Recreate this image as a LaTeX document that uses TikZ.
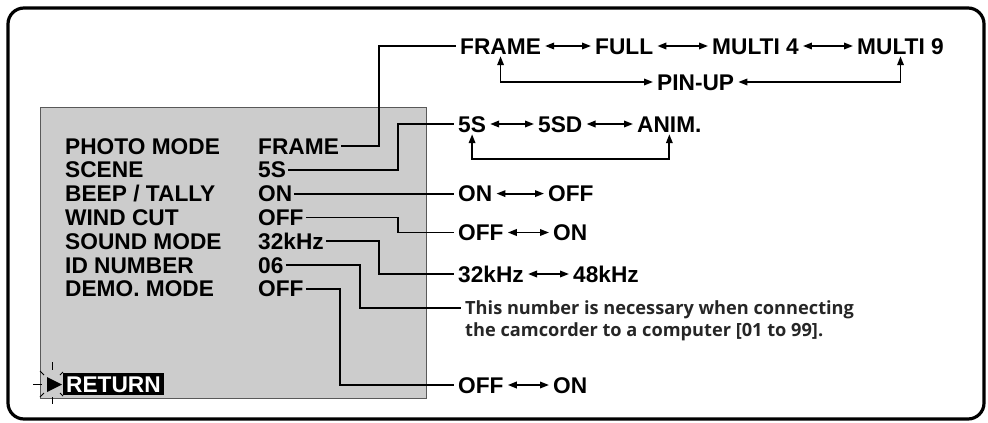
\documentclass[tikz,border=0pt]{standalone}
\usepackage{fontspec}
\setmainfont{Liberation Sans}
\newfontfamily\notefont{Open Sans}
\usetikzlibrary{arrows.meta}
\definecolor{panel}{RGB}{204,204,204}
\begin{document}
\begin{tikzpicture}[x=1pt,y=-1pt,
  txt/.style={font=\fontsize{22.7}{24}\selectfont\bfseries, inner xsep=2pt, inner ysep=0pt, text height=16pt, text depth=0pt, anchor=west},
  opt/.style={txt, inner xsep=4pt},
  note/.style={font=\notefont\fontsize{18.2}{20}\selectfont\bfseries, inner xsep=4pt, inner ysep=0pt, text height=12pt, text depth=0pt, anchor=base west, text=black!85},
  wire/.style={line width=1.8pt},
  tipd/.style={line width=1.8pt, {Triangle[length=9pt,width=6.5pt]}-{Triangle[length=9pt,width=6.5pt]}},
  spark/.style={line width=0.9pt},
]
\useasboundingbox (0,0) rectangle (988,423);
\draw[line width=3.2pt, rounded corners=16pt] (8,8) rectangle (984,419);
% panel
\draw[fill=panel, draw=black!65, line width=1pt] (40,107) rectangle (426,398);
% labels
\node[txt] (l1) at (63,146.0) {PHOTO MODE};
\node[txt] (l2) at (63,169.8) {SCENE};
\node[txt] (l3) at (63,193.6) {BEEP / TALLY};
\node[txt] (l4) at (63,217.4) {WIND CUT};
\node[txt] (l5) at (63,241.2) {SOUND MODE};
\node[txt] (l6) at (63,265.0) {ID NUMBER};
\node[txt] (l7) at (63,288.8) {DEMO. MODE};
% values
\node[txt] (v1) at (256,146.0) {FRAME};
\node[txt] (v2) at (256,169.8) {5S};
\node[txt] (v3) at (256,193.6) {ON};
\node[txt] (v4) at (256,217.4) {OFF};
\node[txt] (v5) at (256,241.2) {32kHz};
\node[txt] (v6) at (256,265.0) {06};
\node[txt] (v7) at (256,288.8) {OFF};
% return
\node[txt, fill=black, text=white, inner xsep=3pt, inner ysep=3pt] (ret) at (63,384) {RETURN};
\fill (47,377) -- (62,384.5) -- (47,392) -- cycle;
\draw[spark] (52,362) -- (52,370);
\draw[spark] (52,397) -- (52,404);
\draw[spark] (33,384) -- (42,384);
\draw[spark] (40,371) -- (44,375);
\draw[spark] (40,397) -- (44,393);
\draw[spark] (60,375) -- (63,372);
\draw[spark] (60,393) -- (63,396);
% right side options
\node[opt] (rframe) at (456,46) {FRAME};
\node[opt] (rfull) at (591,46) {FULL};
\node[opt] (rm4) at (708,46) {MULTI 4};
\node[opt] (rm9) at (853,46) {MULTI 9};
\node[opt] (rpin) at (653,82) {PIN-UP};
\node[opt] (r5s) at (454,124) {5S};
\node[opt] (r5sd) at (534,124) {5SD};
\node[opt] (ranim) at (633,124) {ANIM.};
\node[opt] (ron) at (454,193.6) {ON};
\node[opt] (roff) at (544,193.6) {OFF};
\node[opt] (woff) at (454,232.5) {OFF};
\node[opt] (won) at (549,232.5) {ON};
\node[opt] (s32) at (454,274) {32kHz};
\node[opt] (s48) at (569,274) {48kHz};
\node[note] (n1) at (461,314) {This number is necessary when connecting};
\node[note] (n2) at (461,336) {the camcorder to a computer [01 to 99].};
\node[opt] (doff) at (454,385) {OFF};
\node[opt] (don) at (549,385) {ON};
% arrows between options
\draw[tipd] (rframe.east) -- (rfull.west);
\draw[tipd] (rfull.east) -- (rm4.west);
\draw[tipd] (rm4.east) -- (rm9.west);
\draw[tipd, shorten <=2pt] (rframe.south) |- (rpin.west);
\draw[tipd, shorten <=2pt] (rm9.south) |- (rpin.east);
\draw[tipd] (r5s.east) -- (r5sd.west);
\draw[tipd] (r5sd.east) -- (ranim.west);
\coordinate (loopy) at (0,159);
\draw[tipd, shorten <=2pt, shorten >=2pt] (r5s.south) -- (r5s.south |- loopy) -- (ranim.south |- loopy) -- (ranim.south);
\draw[tipd] (ron.east) -- (roff.west);
\draw[tipd] (woff.east) -- (won.west);
\draw[tipd] (s32.east) -- (s48.west);
\draw[tipd] (doff.east) -- (don.west);
% connectors
\draw[wire] (v1.east) -| (379,46) -- (rframe.west);
\draw[wire] (v2.east) -| (398,124) -- (r5s.west);
\draw[wire] (v3.east) -- (ron.west);
\draw[wire] (v4.east) -| (398,232.5) -- (woff.west);
\draw[wire] (v5.east) -| (379,274) -- (s32.west);
\draw[wire] (v6.east) -| (360,308) -- (n1.west);
\draw[wire] (v7.east) -| (340,385) -- (doff.west);
\end{tikzpicture}
\end{document}
